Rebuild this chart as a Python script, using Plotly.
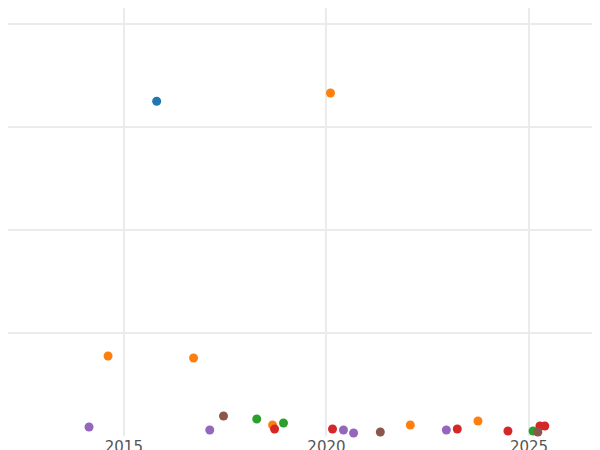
import plotly.graph_objects as go

blue_x = [2015.81]; blue_y = [325]
orange_x = [2020.10, 2014.61, 2016.72, 2018.67, 2022.07, 2023.74]
orange_y = [333, 77.7, 75.7, 10.7, 10.7, 14.6]
green_x = [2018.28, 2018.94, 2025.10]
green_y = [16.5, 12.6, 4.9]
red_x = [2018.72, 2020.15, 2023.23, 2024.48, 2025.27, 2025.39]
red_y = [6.8, 6.8, 6.8, 4.9, 9.7, 9.7]
purple_x = [2014.14, 2017.12, 2020.42, 2020.67, 2022.96]
purple_y = [8.7, 5.8, 5.8, 2.9, 5.8]
brown_x = [2017.46, 2021.33, 2025.22]
brown_y = [19.4, 3.9, 3.9]

series = [
    (blue_x, blue_y, "#1f77b4"),
    (orange_x, orange_y, "#ff7f0e"),
    (green_x, green_y, "#2ca02c"),
    (red_x, red_y, "#d62728"),
    (purple_x, purple_y, "#9467bd"),
    (brown_x, brown_y, "#8c564b"),
]

fig = go.Figure()
for xs, ys, c in series:
    fig.add_trace(go.Scatter(x=xs, y=ys, mode="markers", cliponaxis=False,
                             marker=dict(color=c, size=9), showlegend=False))

fig.update_layout(
    width=600, height=450,
    margin=dict(l=0, r=0, t=0, b=22, pad=0, autoexpand=False),
    plot_bgcolor="white", paper_bgcolor="white",
    font=dict(family="DejaVu Sans", size=15, color="#555"),
)
fig.update_xaxes(range=[2012.14, 2026.95], tickvals=[2015, 2020, 2025],
                 ticklen=0, showgrid=True, gridcolor="#ebebeb", gridwidth=2, zeroline=False)
fig.update_yaxes(range=[0, 415.5], tickvals=[0, 100, 200, 300, 400],
                 showticklabels=False, showgrid=True, gridcolor="#ebebeb",
                 gridwidth=2, zeroline=False)
fig.write_html("out.html")
